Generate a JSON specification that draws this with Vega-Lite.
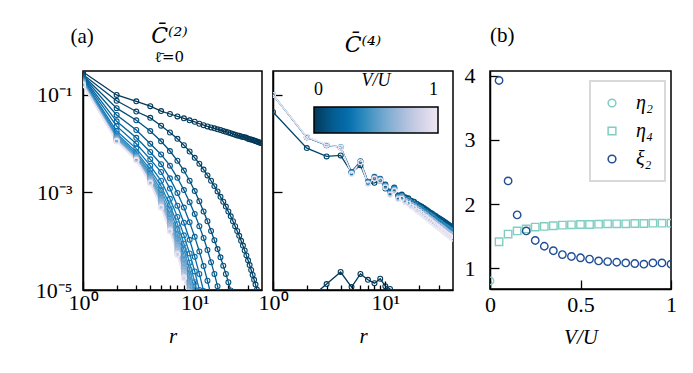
{
"$schema": "https://vega.github.io/schema/vega-lite/v6.json",
"padding": {"left": 34, "top": 24, "right": 5, "bottom": 5},
"config": {
 "font": "Liberation Serif",
 "view": {"stroke": "black", "strokeWidth": 1.5},
 "axis": {"grid": false, "domainColor": "black", "domainWidth": 1.5, "tickColor": "black", "tickWidth": 1.3, "labelColor": "black", "labelFontSize": 22, "labelFont": "Liberation Serif", "titleFont": "Liberation Serif", "titleFontSize": 21, "titleFontWeight": "normal", "titleColor": "black", "titleFontStyle": "italic", "labelOverlap": false, "labelFlush": false},
 "legend": {"strokeWidth": 2},
 "title": {"font": "DejaVu Serif", "fontWeight": "normal", "color": "black", "fontSize": 21, "frame": "group"}
},
"datasets": {
"p1": [
{"v":0,"r":1,"c":0.295},{"v":0,"r":2,"c":0.1},{"v":0,"r":3,"c":0.0741},{"v":0,"r":4,"c":0.0589},{"v":0,"r":5,"c":0.0468},{"v":0,"r":6,"c":0.0407},{"v":0,"r":7,"c":0.0363},{"v":0,"r":8,"c":0.0331},{"v":0,"r":9,"c":0.0302},{"v":0,"r":10,"c":0.0282},{"v":0,"r":11,"c":0.0257},{"v":0,"r":12,"c":0.024},{"v":0,"r":13,"c":0.0226},{"v":0,"r":14,"c":0.0216},{"v":0,"r":15,"c":0.0207},{"v":0,"r":16,"c":0.0197},{"v":0,"r":17,"c":0.0191},{"v":0,"r":18,"c":0.0182},{"v":0,"r":19,"c":0.0176},{"v":0,"r":20,"c":0.017},{"v":0,"r":21,"c":0.0164},{"v":0,"r":22,"c":0.0158},{"v":0,"r":23,"c":0.0153},{"v":0,"r":24,"c":0.0148},{"v":0,"r":25,"c":0.0145},{"v":0,"r":26,"c":0.0141},{"v":0,"r":27,"c":0.0138},{"v":0,"r":28,"c":0.0135},{"v":0,"r":29,"c":0.0132},{"v":0,"r":30,"c":0.0127},{"v":0,"r":31,"c":0.0124},{"v":0,"r":32,"c":0.0122},{"v":0,"r":33,"c":0.0119},{"v":0,"r":34,"c":0.0116},{"v":0,"r":35,"c":0.0114},{"v":0,"r":36,"c":0.0111},{"v":0,"r":37,"c":0.0108},{"v":0,"r":38,"c":0.0106},{"v":0,"r":39,"c":0.0104},{"v":0,"r":40,"c":0.0102},
{"v":0.05,"r":1,"c":0.263},{"v":0.05,"r":2,"c":0.0759},{"v":0.05,"r":3,"c":0.0457},{"v":0.05,"r":4,"c":0.0339},{"v":0.05,"r":5,"c":0.0234},{"v":0.05,"r":6,"c":0.017},{"v":0.05,"r":7,"c":0.0126},{"v":0.05,"r":8,"c":0.00933},{"v":0.05,"r":9,"c":0.00692},{"v":0.05,"r":10,"c":0.00513},{"v":0.05,"r":11,"c":0.00389},{"v":0.05,"r":12,"c":0.00295},{"v":0.05,"r":13,"c":0.00224},{"v":0.05,"r":14,"c":0.00174},{"v":0.05,"r":15,"c":0.00135},{"v":0.05,"r":16,"c":0.00105},{"v":0.05,"r":17,"c":8.13e-4},{"v":0.05,"r":18,"c":6.46e-4},{"v":0.05,"r":19,"c":5.13e-4},{"v":0.05,"r":20,"c":4.07e-4},{"v":0.05,"r":21,"c":3.24e-4},{"v":0.05,"r":22,"c":2.57e-4},{"v":0.05,"r":23,"c":2.04e-4},{"v":0.05,"r":24,"c":1.62e-4},{"v":0.05,"r":25,"c":1.29e-4},{"v":0.05,"r":26,"c":1.02e-4},{"v":0.05,"r":27,"c":8.13e-5},{"v":0.05,"r":28,"c":6.46e-5},{"v":0.05,"r":29,"c":5.13e-5},{"v":0.05,"r":30,"c":4.07e-5},{"v":0.05,"r":31,"c":3.24e-5},{"v":0.05,"r":32,"c":2.57e-5},{"v":0.05,"r":33,"c":2.04e-5},{"v":0.05,"r":34,"c":1.62e-5},{"v":0.05,"r":35,"c":1.29e-5},{"v":0.05,"r":36,"c":1.02e-5},{"v":0.05,"r":37,"c":8.13e-6},
{"v":0.1,"r":1,"c":0.251},{"v":0.1,"r":2,"c":0.0537},{"v":0.1,"r":3,"c":0.0302},{"v":0.1,"r":4,"c":0.0182},{"v":0.1,"r":5,"c":0.0112},{"v":0.1,"r":6,"c":0.00708},{"v":0.1,"r":7,"c":0.00447},{"v":0.1,"r":8,"c":0.00282},{"v":0.1,"r":9,"c":0.00174},{"v":0.1,"r":10,"c":0.00107},{"v":0.1,"r":11,"c":6.61e-4},{"v":0.1,"r":12,"c":4.07e-4},{"v":0.1,"r":13,"c":2.57e-4},{"v":0.1,"r":14,"c":1.62e-4},{"v":0.1,"r":15,"c":1.05e-4},{"v":0.1,"r":16,"c":6.92e-5},{"v":0.1,"r":17,"c":4.68e-5},{"v":0.1,"r":18,"c":3.16e-5},{"v":0.1,"r":19,"c":2.14e-5},{"v":0.1,"r":20,"c":1.45e-5},{"v":0.1,"r":21,"c":9.77e-6},
{"v":0.15,"r":1,"c":0.24},{"v":0.15,"r":2,"c":0.0389},{"v":0.15,"r":3,"c":0.0191},{"v":0.15,"r":4,"c":0.01},{"v":0.15,"r":5,"c":0.00603},{"v":0.15,"r":6,"c":0.00355},{"v":0.15,"r":7,"c":0.002},{"v":0.15,"r":8,"c":0.00112},{"v":0.15,"r":9,"c":6.31e-4},{"v":0.15,"r":10,"c":3.63e-4},{"v":0.15,"r":11,"c":2.04e-4},{"v":0.15,"r":12,"c":1.17e-4},{"v":0.15,"r":13,"c":6.61e-5},{"v":0.15,"r":14,"c":3.72e-5},{"v":0.15,"r":15,"c":2.14e-5},{"v":0.15,"r":16,"c":1.2e-5},{"v":0.15,"r":17,"c":6.92e-6},
{"v":0.2,"r":1,"c":0.229},{"v":0.2,"r":2,"c":0.0288},{"v":0.2,"r":3,"c":0.0132},{"v":0.2,"r":4,"c":0.00676},{"v":0.2,"r":5,"c":0.0038},{"v":0.2,"r":6,"c":0.00195},{"v":0.2,"r":7,"c":9.77e-4},{"v":0.2,"r":8,"c":4.9e-4},{"v":0.2,"r":9,"c":2.45e-4},{"v":0.2,"r":10,"c":1.23e-4},{"v":0.2,"r":11,"c":6.17e-5},{"v":0.2,"r":12,"c":3.09e-5},{"v":0.2,"r":13,"c":1.55e-5},{"v":0.2,"r":14,"c":7.76e-6},
{"v":0.25,"r":1,"c":0.219},{"v":0.25,"r":2,"c":0.0229},{"v":0.25,"r":3,"c":0.01},{"v":0.25,"r":4,"c":0.00479},{"v":0.25,"r":5,"c":0.00263},{"v":0.25,"r":6,"c":0.0012},{"v":0.25,"r":7,"c":5.37e-4},{"v":0.25,"r":8,"c":2.4e-4},{"v":0.25,"r":9,"c":1.07e-4},{"v":0.25,"r":10,"c":4.79e-5},{"v":0.25,"r":11,"c":2.14e-5},{"v":0.25,"r":12,"c":9.55e-6},
{"v":0.3,"r":1,"c":0.209},{"v":0.3,"r":2,"c":0.0182},{"v":0.3,"r":3,"c":0.00794},{"v":0.3,"r":4,"c":0.00355},{"v":0.3,"r":5,"c":0.00174},{"v":0.3,"r":6,"c":7.41e-4},{"v":0.3,"r":7,"c":3.16e-4},{"v":0.3,"r":8,"c":1.32e-4},{"v":0.3,"r":9,"c":5.62e-5},{"v":0.3,"r":10,"c":2.4e-5},{"v":0.3,"r":11,"c":1.0e-5},{"v":0.3,"r":12,"c":4.27e-6},
{"v":0.35,"r":1,"c":0.2},{"v":0.35,"r":2,"c":0.0162},{"v":0.35,"r":3,"c":0.00676},{"v":0.35,"r":4,"c":0.00295},{"v":0.35,"r":5,"c":0.00135},{"v":0.35,"r":6,"c":5.5e-4},{"v":0.35,"r":7,"c":2.24e-4},{"v":0.35,"r":8,"c":8.91e-5},{"v":0.35,"r":9,"c":3.63e-5},{"v":0.35,"r":10,"c":1.45e-5},{"v":0.35,"r":11,"c":5.89e-6},
{"v":0.4,"r":1,"c":0.195},{"v":0.4,"r":2,"c":0.0148},{"v":0.4,"r":3,"c":0.00617},{"v":0.4,"r":4,"c":0.00257},{"v":0.4,"r":5,"c":0.00112},{"v":0.4,"r":6,"c":4.47e-4},{"v":0.4,"r":7,"c":1.74e-4},{"v":0.4,"r":8,"c":6.76e-5},{"v":0.4,"r":9,"c":2.63e-5},{"v":0.4,"r":10,"c":1.0e-5},{"v":0.4,"r":11,"c":3.89e-6},
{"v":0.45,"r":1,"c":0.191},{"v":0.45,"r":2,"c":0.0138},{"v":0.45,"r":3,"c":0.00575},{"v":0.45,"r":4,"c":0.00229},{"v":0.45,"r":5,"c":9.55e-4},{"v":0.45,"r":6,"c":3.63e-4},{"v":0.45,"r":7,"c":1.38e-4},{"v":0.45,"r":8,"c":5.25e-5},{"v":0.45,"r":9,"c":2.0e-5},{"v":0.45,"r":10,"c":7.59e-6},
{"v":0.5,"r":1,"c":0.186},{"v":0.5,"r":2,"c":0.0132},{"v":0.5,"r":3,"c":0.0055},{"v":0.5,"r":4,"c":0.00209},{"v":0.5,"r":5,"c":8.32e-4},{"v":0.5,"r":6,"c":3.09e-4},{"v":0.5,"r":7,"c":1.15e-4},{"v":0.5,"r":8,"c":4.27e-5},{"v":0.5,"r":9,"c":1.58e-5},{"v":0.5,"r":10,"c":5.89e-6},
{"v":0.55,"r":1,"c":0.182},{"v":0.55,"r":2,"c":0.0126},{"v":0.55,"r":3,"c":0.00525},{"v":0.55,"r":4,"c":0.00195},{"v":0.55,"r":5,"c":7.41e-4},{"v":0.55,"r":6,"c":2.69e-4},{"v":0.55,"r":7,"c":9.77e-5},{"v":0.55,"r":8,"c":3.55e-5},{"v":0.55,"r":9,"c":1.29e-5},{"v":0.55,"r":10,"c":4.68e-6},
{"v":0.6,"r":1,"c":0.178},{"v":0.6,"r":2,"c":0.0123},{"v":0.6,"r":3,"c":0.00513},{"v":0.6,"r":4,"c":0.00186},{"v":0.6,"r":5,"c":6.76e-4},{"v":0.6,"r":6,"c":2.4e-4},{"v":0.6,"r":7,"c":8.51e-5},{"v":0.6,"r":8,"c":3.02e-5},{"v":0.6,"r":9,"c":1.07e-5},{"v":0.6,"r":10,"c":3.8e-6},
{"v":0.65,"r":1,"c":0.174},{"v":0.65,"r":2,"c":0.012},{"v":0.65,"r":3,"c":0.00501},{"v":0.65,"r":4,"c":0.00178},{"v":0.65,"r":5,"c":6.31e-4},{"v":0.65,"r":6,"c":2.19e-4},{"v":0.65,"r":7,"c":7.59e-5},{"v":0.65,"r":8,"c":2.63e-5},{"v":0.65,"r":9,"c":9.12e-6},
{"v":0.7,"r":1,"c":0.17},{"v":0.7,"r":2,"c":0.0117},{"v":0.7,"r":3,"c":0.0049},{"v":0.7,"r":4,"c":0.0017},{"v":0.7,"r":5,"c":5.89e-4},{"v":0.7,"r":6,"c":2.0e-4},{"v":0.7,"r":7,"c":6.76e-5},{"v":0.7,"r":8,"c":2.34e-5},{"v":0.7,"r":9,"c":8.13e-6},
{"v":0.75,"r":1,"c":0.166},{"v":0.75,"r":2,"c":0.0116},{"v":0.75,"r":3,"c":0.00479},{"v":0.75,"r":4,"c":0.00166},{"v":0.75,"r":5,"c":5.5e-4},{"v":0.75,"r":6,"c":1.82e-4},{"v":0.75,"r":7,"c":6.17e-5},{"v":0.75,"r":8,"c":2.14e-5},{"v":0.75,"r":9,"c":7.41e-6},
{"v":0.8,"r":1,"c":0.166},{"v":0.8,"r":2,"c":0.0115},{"v":0.8,"r":3,"c":0.00468},{"v":0.8,"r":4,"c":0.00162},{"v":0.8,"r":5,"c":5.25e-4},{"v":0.8,"r":6,"c":1.74e-4},{"v":0.8,"r":7,"c":5.75e-5},{"v":0.8,"r":8,"c":1.91e-5},{"v":0.8,"r":9,"c":6.31e-6},
{"v":0.85,"r":1,"c":0.162},{"v":0.85,"r":2,"c":0.0114},{"v":0.85,"r":3,"c":0.00468},{"v":0.85,"r":4,"c":0.00158},{"v":0.85,"r":5,"c":5.13e-4},{"v":0.85,"r":6,"c":1.7e-4},{"v":0.85,"r":7,"c":5.62e-5},{"v":0.85,"r":8,"c":1.86e-5},{"v":0.85,"r":9,"c":6.17e-6},
{"v":0.9,"r":1,"c":0.162},{"v":0.9,"r":2,"c":0.0112},{"v":0.9,"r":3,"c":0.00457},{"v":0.9,"r":4,"c":0.00158},{"v":0.9,"r":5,"c":5.01e-4},{"v":0.9,"r":6,"c":1.66e-4},{"v":0.9,"r":7,"c":5.5e-5},{"v":0.9,"r":8,"c":1.82e-5},{"v":0.9,"r":9,"c":6.03e-6},
{"v":0.95,"r":1,"c":0.158},{"v":0.95,"r":2,"c":0.0112},{"v":0.95,"r":3,"c":0.00457},{"v":0.95,"r":4,"c":0.00155},{"v":0.95,"r":5,"c":4.9e-4},{"v":0.95,"r":6,"c":1.62e-4},{"v":0.95,"r":7,"c":5.37e-5},{"v":0.95,"r":8,"c":1.78e-5},{"v":0.95,"r":9,"c":5.89e-6},
{"v":1,"r":1,"c":0.158},{"v":1,"r":2,"c":0.0112},{"v":1,"r":3,"c":0.00457},{"v":1,"r":4,"c":0.00155},{"v":1,"r":5,"c":4.9e-4},{"v":1,"r":6,"c":1.58e-4},{"v":1,"r":7,"c":5.25e-5},{"v":1,"r":8,"c":1.74e-5},{"v":1,"r":9,"c":5.75e-6}
],
"p2": [
{"v":0,"r":2,"c":6.03e-6},{"v":0,"r":3,"c":1.32e-5},{"v":0,"r":4,"c":2.34e-5},{"v":0,"r":5,"c":1.15e-5},{"v":0,"r":6,"c":2.14e-5},{"v":0,"r":7,"c":1.62e-5},{"v":0,"r":8,"c":1.38e-5},{"v":0,"r":9,"c":1.7e-5},{"v":0,"r":10,"c":1.2e-5},{"v":0,"r":11,"c":1.05e-5},{"v":0,"r":12,"c":5.01e-6},
{"v":0.05,"r":1,"c":0.0447},{"v":0.05,"r":2,"c":0.00813},{"v":0.05,"r":3,"c":0.0055},{"v":0.05,"r":4,"c":0.00575},{"v":0.05,"r":5,"c":0.00257},{"v":0.05,"r":6,"c":0.00363},{"v":0.05,"r":7,"c":0.00155},{"v":0.05,"r":8,"c":0.00158},{"v":0.05,"r":9,"c":0.00174},{"v":0.05,"r":10,"c":0.0012},{"v":0.05,"r":11,"c":0.00102},{"v":0.05,"r":12,"c":0.00123},{"v":0.05,"r":13,"c":8.51e-4},{"v":0.05,"r":14,"c":8.91e-4},{"v":0.05,"r":15,"c":7.76e-4},{"v":0.05,"r":16,"c":7.41e-4},{"v":0.05,"r":17,"c":6.61e-4},{"v":0.05,"r":18,"c":6.31e-4},{"v":0.05,"r":19,"c":5.75e-4},{"v":0.05,"r":20,"c":5.37e-4},{"v":0.05,"r":21,"c":5.01e-4},{"v":0.05,"r":22,"c":4.68e-4},{"v":0.05,"r":23,"c":4.37e-4},{"v":0.05,"r":24,"c":4.07e-4},{"v":0.05,"r":25,"c":3.8e-4},{"v":0.05,"r":26,"c":3.63e-4},{"v":0.05,"r":27,"c":3.39e-4},{"v":0.05,"r":28,"c":3.24e-4},{"v":0.05,"r":29,"c":3.02e-4},{"v":0.05,"r":30,"c":2.88e-4},{"v":0.05,"r":31,"c":2.75e-4},{"v":0.05,"r":32,"c":2.63e-4},{"v":0.05,"r":33,"c":2.51e-4},{"v":0.05,"r":34,"c":2.4e-4},{"v":0.05,"r":35,"c":2.29e-4},{"v":0.05,"r":36,"c":2.19e-4},{"v":0.05,"r":37,"c":2.09e-4},{"v":0.05,"r":38,"c":2.0e-4},{"v":0.05,"r":39,"c":1.91e-4},{"v":0.05,"r":40,"c":1.86e-4},
{"v":0.1,"r":1,"c":0.1},{"v":0.1,"r":2,"c":0.0135},{"v":0.1,"r":3,"c":0.00933},{"v":0.1,"r":4,"c":0.00851},{"v":0.1,"r":5,"c":0.00263},{"v":0.1,"r":6,"c":0.00437},{"v":0.1,"r":7,"c":0.00166},{"v":0.1,"r":8,"c":0.00209},{"v":0.1,"r":9,"c":0.00191},{"v":0.1,"r":10,"c":0.00145},{"v":0.1,"r":11,"c":0.00105},{"v":0.1,"r":12,"c":0.00126},{"v":0.1,"r":13,"c":8.71e-4},{"v":0.1,"r":14,"c":9.12e-4},{"v":0.1,"r":15,"c":7.94e-4},{"v":0.1,"r":16,"c":7.59e-4},{"v":0.1,"r":17,"c":6.76e-4},{"v":0.1,"r":18,"c":6.46e-4},{"v":0.1,"r":19,"c":5.89e-4},{"v":0.1,"r":20,"c":5.5e-4},{"v":0.1,"r":21,"c":5.13e-4},{"v":0.1,"r":22,"c":4.79e-4},{"v":0.1,"r":23,"c":4.47e-4},{"v":0.1,"r":24,"c":4.17e-4},{"v":0.1,"r":25,"c":3.89e-4},{"v":0.1,"r":26,"c":3.72e-4},{"v":0.1,"r":27,"c":3.47e-4},{"v":0.1,"r":28,"c":3.31e-4},{"v":0.1,"r":29,"c":3.09e-4},{"v":0.1,"r":30,"c":2.95e-4},{"v":0.1,"r":31,"c":2.82e-4},{"v":0.1,"r":32,"c":2.69e-4},{"v":0.1,"r":33,"c":2.57e-4},{"v":0.1,"r":34,"c":2.45e-4},{"v":0.1,"r":35,"c":2.34e-4},{"v":0.1,"r":36,"c":2.24e-4},{"v":0.1,"r":37,"c":2.14e-4},{"v":0.1,"r":38,"c":2.04e-4},{"v":0.1,"r":39,"c":1.95e-4},{"v":0.1,"r":40,"c":1.91e-4},
{"v":0.4,"r":1,"c":0.1},{"v":0.4,"r":2,"c":0.0135},{"v":0.4,"r":3,"c":0.00933},{"v":0.4,"r":4,"c":0.00851},{"v":0.4,"r":5,"c":0.00257},{"v":0.4,"r":6,"c":0.00427},{"v":0.4,"r":7,"c":0.00162},{"v":0.4,"r":8,"c":0.00204},{"v":0.4,"r":9,"c":0.00186},{"v":0.4,"r":10,"c":0.00138},{"v":0.4,"r":11,"c":0.001},{"v":0.4,"r":12,"c":0.0012},{"v":0.4,"r":13,"c":8.13e-4},{"v":0.4,"r":14,"c":8.51e-4},{"v":0.4,"r":15,"c":7.24e-4},{"v":0.4,"r":16,"c":6.92e-4},{"v":0.4,"r":17,"c":6.17e-4},{"v":0.4,"r":18,"c":5.75e-4},{"v":0.4,"r":19,"c":5.25e-4},{"v":0.4,"r":20,"c":4.9e-4},{"v":0.4,"r":21,"c":4.57e-4},{"v":0.4,"r":22,"c":4.17e-4},{"v":0.4,"r":23,"c":3.89e-4},{"v":0.4,"r":24,"c":3.63e-4},{"v":0.4,"r":25,"c":3.39e-4},{"v":0.4,"r":26,"c":3.24e-4},{"v":0.4,"r":27,"c":3.02e-4},{"v":0.4,"r":28,"c":2.82e-4},{"v":0.4,"r":29,"c":2.63e-4},{"v":0.4,"r":30,"c":2.51e-4},{"v":0.4,"r":31,"c":2.4e-4},{"v":0.4,"r":32,"c":2.24e-4},{"v":0.4,"r":33,"c":2.14e-4},{"v":0.4,"r":34,"c":2.04e-4},{"v":0.4,"r":35,"c":1.95e-4},{"v":0.4,"r":36,"c":1.86e-4},{"v":0.4,"r":37,"c":1.78e-4},{"v":0.4,"r":38,"c":1.7e-4},{"v":0.4,"r":39,"c":1.62e-4},{"v":0.4,"r":40,"c":1.58e-4},
{"v":0.7,"r":1,"c":0.1},{"v":0.7,"r":2,"c":0.0136},{"v":0.7,"r":3,"c":0.00944},{"v":0.7,"r":4,"c":0.00841},{"v":0.7,"r":5,"c":0.00245},{"v":0.7,"r":6,"c":0.00422},{"v":0.7,"r":7,"c":0.00155},{"v":0.7,"r":8,"c":0.00195},{"v":0.7,"r":9,"c":0.00178},{"v":0.7,"r":10,"c":0.00132},{"v":0.7,"r":11,"c":9.33e-4},{"v":0.7,"r":12,"c":0.00112},{"v":0.7,"r":13,"c":7.59e-4},{"v":0.7,"r":14,"c":7.94e-4},{"v":0.7,"r":15,"c":6.76e-4},{"v":0.7,"r":16,"c":6.31e-4},{"v":0.7,"r":17,"c":5.62e-4},{"v":0.7,"r":18,"c":5.25e-4},{"v":0.7,"r":19,"c":4.68e-4},{"v":0.7,"r":20,"c":4.37e-4},{"v":0.7,"r":21,"c":3.98e-4},{"v":0.7,"r":22,"c":3.72e-4},{"v":0.7,"r":23,"c":3.47e-4},{"v":0.7,"r":24,"c":3.16e-4},{"v":0.7,"r":25,"c":2.95e-4},{"v":0.7,"r":26,"c":2.75e-4},{"v":0.7,"r":27,"c":2.57e-4},{"v":0.7,"r":28,"c":2.4e-4},{"v":0.7,"r":29,"c":2.24e-4},{"v":0.7,"r":30,"c":2.14e-4},{"v":0.7,"r":31,"c":2.04e-4},{"v":0.7,"r":32,"c":1.91e-4},{"v":0.7,"r":33,"c":1.82e-4},{"v":0.7,"r":34,"c":1.7e-4},{"v":0.7,"r":35,"c":1.62e-4},{"v":0.7,"r":36,"c":1.55e-4},{"v":0.7,"r":37,"c":1.48e-4},{"v":0.7,"r":38,"c":1.41e-4},{"v":0.7,"r":39,"c":1.35e-4},{"v":0.7,"r":40,"c":1.32e-4},
{"v":1,"r":1,"c":0.1},{"v":1,"r":2,"c":0.0138},{"v":1,"r":3,"c":0.00955},{"v":1,"r":4,"c":0.00832},{"v":1,"r":5,"c":0.0024},{"v":1,"r":6,"c":0.00417},{"v":1,"r":7,"c":0.00151},{"v":1,"r":8,"c":0.00191},{"v":1,"r":9,"c":0.00174},{"v":1,"r":10,"c":0.00126},{"v":1,"r":11,"c":8.91e-4},{"v":1,"r":12,"c":0.00107},{"v":1,"r":13,"c":7.24e-4},{"v":1,"r":14,"c":7.41e-4},{"v":1,"r":15,"c":6.31e-4},{"v":1,"r":16,"c":5.89e-4},{"v":1,"r":17,"c":5.13e-4},{"v":1,"r":18,"c":4.79e-4},{"v":1,"r":19,"c":4.27e-4},{"v":1,"r":20,"c":3.98e-4},{"v":1,"r":21,"c":3.63e-4},{"v":1,"r":22,"c":3.31e-4},{"v":1,"r":23,"c":3.09e-4},{"v":1,"r":24,"c":2.82e-4},{"v":1,"r":25,"c":2.63e-4},{"v":1,"r":26,"c":2.45e-4},{"v":1,"r":27,"c":2.29e-4},{"v":1,"r":28,"c":2.14e-4},{"v":1,"r":29,"c":2.0e-4},{"v":1,"r":30,"c":1.86e-4},{"v":1,"r":31,"c":1.78e-4},{"v":1,"r":32,"c":1.66e-4},{"v":1,"r":33,"c":1.58e-4},{"v":1,"r":34,"c":1.48e-4},{"v":1,"r":35,"c":1.41e-4},{"v":1,"r":36,"c":1.35e-4},{"v":1,"r":37,"c":1.29e-4},{"v":1,"r":38,"c":1.23e-4},{"v":1,"r":39,"c":1.17e-4},{"v":1,"r":40,"c":1.12e-4}
],
"p3": [
{"s":"η₂","x":0,"y":0.8},
{"s":"η₄","x":0.05,"y":1.41},{"s":"η₄","x":0.1,"y":1.53},{"s":"η₄","x":0.15,"y":1.58},{"s":"η₄","x":0.2,"y":1.61},{"s":"η₄","x":0.25,"y":1.64},{"s":"η₄","x":0.3,"y":1.65},{"s":"η₄","x":0.35,"y":1.66},{"s":"η₄","x":0.4,"y":1.67},{"s":"η₄","x":0.45,"y":1.675},{"s":"η₄","x":0.5,"y":1.68},{"s":"η₄","x":0.55,"y":1.68},{"s":"η₄","x":0.6,"y":1.685},{"s":"η₄","x":0.65,"y":1.69},{"s":"η₄","x":0.7,"y":1.69},{"s":"η₄","x":0.75,"y":1.69},{"s":"η₄","x":0.8,"y":1.695},{"s":"η₄","x":0.85,"y":1.695},{"s":"η₄","x":0.9,"y":1.7},{"s":"η₄","x":0.95,"y":1.7},{"s":"η₄","x":1,"y":1.7},
{"s":"ξ₂","x":0.05,"y":3.93},{"s":"ξ₂","x":0.1,"y":2.36},{"s":"ξ₂","x":0.15,"y":1.83},{"s":"ξ₂","x":0.2,"y":1.58},{"s":"ξ₂","x":0.25,"y":1.43},{"s":"ξ₂","x":0.3,"y":1.34},{"s":"ξ₂","x":0.35,"y":1.27},{"s":"ξ₂","x":0.4,"y":1.21},{"s":"ξ₂","x":0.45,"y":1.18},{"s":"ξ₂","x":0.5,"y":1.16},{"s":"ξ₂","x":0.55,"y":1.14},{"s":"ξ₂","x":0.6,"y":1.11},{"s":"ξ₂","x":0.65,"y":1.1},{"s":"ξ₂","x":0.7,"y":1.09},{"s":"ξ₂","x":0.75,"y":1.08},{"s":"ξ₂","x":0.8,"y":1.07},{"s":"ξ₂","x":0.85,"y":1.06},{"s":"ξ₂","x":0.9,"y":1.08},{"s":"ξ₂","x":0.95,"y":1.08},{"s":"ξ₂","x":1,"y":1.06}
]
},
"hconcat": [
 {
  "spacing": -6,
  "resolve": {"scale": {"x": "independent", "y": "independent", "color": "independent"}, "legend": {"color": "independent"}},
  "hconcat": [
   {
    "width": 179, "height": 219,
    "title": {"text": "C̄⁽²⁾", "subtitle": "ℓ̄=0", "anchor": "middle", "fontSize": 22, "fontStyle": "italic", "subtitleFontSize": 15, "subtitleFont": "DejaVu Serif", "subtitleColor": "black", "subtitlePadding": 2, "offset": 6, "dx": -3, "dy": 47},
    "data": {"name": "p1"},
    "encoding": {
     "x": {"field": "r", "type": "quantitative", "scale": {"type": "log", "domain": [1, 40], "nice": false},
       "axis": {"values": [1,2,3,4,5,6,7,8,9,10,20,30], "labelExpr": "datum.value==1?'10⁰':datum.value==10?'10¹':''", "tickSize": {"condition": {"test": "datum.value==1||datum.value==10", "value": -9}, "value": -5}, "labelPadding": 11, "title": "r", "titlePadding": 8}},
     "y": {"field": "c", "type": "quantitative", "scale": {"type": "log", "domain": [0.00001, 0.31], "nice": false},
       "axis": {"values": [0.00001, 0.001, 0.1], "labelExpr": "datum.value<0.00005?'10⁻⁵':datum.value<0.005?'10⁻³':'10⁻¹'", "tickSize": -9, "labelPadding": 20, "title": "(a)", "titleAngle": 0, "titleX": -13, "titleY": -29, "titleAlign": "left", "titleBaseline": "alphabetic", "titleFontStyle": "normal", "titleFontSize": 21}},
     "color": {"field": "v", "type": "quantitative", "scale": {"domain": [0, 0.143, 0.286, 0.429, 0.571, 0.714, 0.857, 1], "range": ["#023858", "#045a8d", "#0570b0", "#3690c0", "#74a9cf", "#a6bddb", "#d0d1e6", "#ece7f2"]}, "legend": null},
     "detail": {"field": "v", "type": "nominal"}
    },
    "layer": [
     {"mark": {"type": "line", "strokeWidth": 1.3, "clip": true}},
     {"mark": {"type": "point", "filled": false, "size": 24, "strokeWidth": 1.1, "opacity": 1, "clip": true}}
    ]
   },
   {
    "width": 180, "height": 219,
    "title": {"text": "C̄⁽⁴⁾", "anchor": "middle", "fontSize": 22, "fontStyle": "italic", "offset": 14},
    "data": {"name": "p2"},
    "encoding": {
     "x": {"field": "r", "type": "quantitative", "scale": {"type": "log", "domain": [1, 40], "nice": false},
       "axis": {"values": [1,2,3,4,5,6,7,8,9,10,20,30], "labelExpr": "datum.value==1?'10⁰':datum.value==10?'10¹':''", "tickSize": {"condition": {"test": "datum.value==1||datum.value==10", "value": -9}, "value": -5}, "labelPadding": 11, "title": "r", "titlePadding": 8}},
     "y": {"field": "c", "type": "quantitative", "scale": {"type": "log", "domain": [0.00001, 0.31], "nice": false},
       "axis": {"values": [0.00001, 0.001, 0.1], "labels": false, "tickSize": -9, "title": null}},
     "color": {"field": "v", "type": "quantitative", "scale": {"domain": [0, 0.143, 0.286, 0.429, 0.571, 0.714, 0.857, 1], "range": ["#023858", "#045a8d", "#0570b0", "#3690c0", "#74a9cf", "#a6bddb", "#d0d1e6", "#ece7f2"]},
       "legend": {"orient": "none", "legendX": 41, "legendY": 1, "direction": "horizontal", "gradientLength": 124, "gradientThickness": 26, "gradientStrokeColor": "black", "gradientStrokeWidth": 1.5, "values": [0, 1], "format": "d", "labelOffset": -52, "labelFontSize": 18, "labelFont": "Liberation Serif", "labelColor": "black", "title": "V/U", "titleFont": "Liberation Serif", "titleFontSize": 18, "titleFontStyle": "italic", "titleFontWeight": "normal", "titleColor": "black", "titleAnchor": "middle", "titlePadding": 17, "padding": 0}},
     "detail": {"field": "v", "type": "nominal"}
    },
    "layer": [
     {"mark": {"type": "line", "strokeWidth": 1.3, "clip": true}},
     {"mark": {"type": "point", "filled": false, "size": 24, "strokeWidth": 1.1, "opacity": 1, "clip": true}}
    ]
   }
  ]
 },
 {
  "width": 181, "height": 218,
  "title": {"text": "(b)", "anchor": "start", "font": "Liberation Serif", "fontSize": 21, "offset": 19},
  "data": {"name": "p3"},
  "mark": {"type": "point", "filled": false, "size": 55, "strokeWidth": 1.4, "opacity": 1, "clip": true},
  "encoding": {
   "x": {"field": "x", "type": "quantitative", "scale": {"domain": [0, 1], "nice": false},
     "axis": {"values": [0, 0.5, 1], "labelExpr": "datum.value==0?'0':datum.value==1?'1':'0.5'", "tickSize": -9, "labelPadding": 14, "title": "V/U", "titlePadding": 11}},
   "y": {"field": "y", "type": "quantitative", "scale": {"domain": [0.672, 4.078], "nice": false, "zero": false},
     "axis": {"values": [1, 2, 3, 4], "tickSize": -9, "labelPadding": 24, "title": null}},
   "color": {"field": "s", "type": "nominal", "scale": {"domain": ["η₂", "η₄", "ξ₂"], "range": ["#80cdc1", "#80cdc1", "#1f4e96"]},
     "legend": {"orient": "none", "legendX": 100, "legendY": 10, "title": null, "padding": 12, "strokeColor": "#d9d9d9", "fillColor": "white", "symbolSize": 60, "symbolStrokeWidth": 1.5, "labelFontSize": 20, "labelFont": "Liberation Serif", "labelFontStyle": "italic", "labelColor": "black", "rowPadding": 8, "labelOffset": 14}},
   "shape": {"field": "s", "type": "nominal", "scale": {"domain": ["η₂", "η₄", "ξ₂"], "range": ["circle", "square", "circle"]},
     "legend": {"orient": "none", "legendX": 100, "legendY": 10, "title": null, "padding": 12, "strokeColor": "#d9d9d9", "fillColor": "white", "symbolSize": 60, "symbolStrokeWidth": 1.5, "labelFontSize": 20, "labelFont": "Liberation Serif", "labelFontStyle": "italic", "labelColor": "black", "rowPadding": 8, "labelOffset": 14}}
  }
 }
],
"spacing": 9,
"resolve": {"scale": {"x": "independent", "y": "independent", "color": "independent", "shape": "independent"}, "legend": {"color": "independent", "shape": "independent"}}
}
